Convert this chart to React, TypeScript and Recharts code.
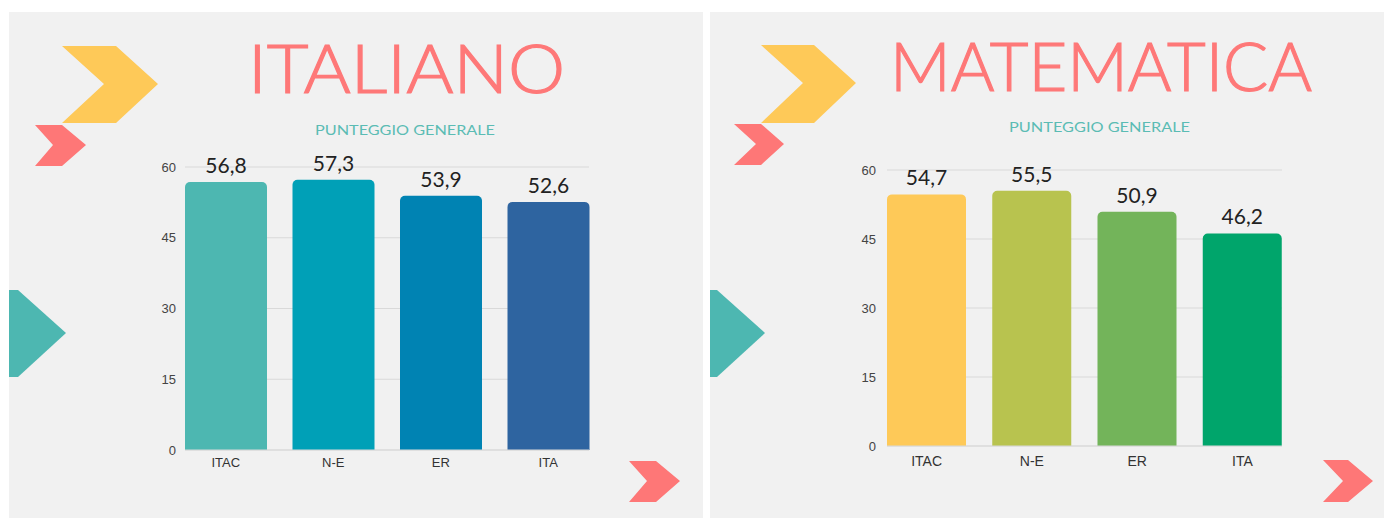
import { BarChart, Bar, XAxis, YAxis, CartesianGrid, Cell, LabelList } from "recharts";

const categories = ["ITAC", "N-E", "ER", "ITA"];
const italianoScores = [56.8, 57.3, 53.9, 52.6];
const matematicaScores = [54.7, 55.5, 50.9, 46.2];
const yTicks = [0, 15, 30, 45, 60];
const italianoColors = ["#4db7b1", "#00a0b7", "#0083b3", "#2e64a0"];
const matematicaColors = ["#fec958", "#b8c34f", "#73b45a", "#00a56b"];

const italianoData = categories.map((name, i) => ({ name, value: italianoScores[i] }));
const matematicaData = categories.map((name, i) => ({ name, value: matematicaScores[i] }));

const fmt = (v: any) => Number(v).toFixed(1).replace(".", ",");

function ScoreChart({ data, colors, left, top, width, height, xFont, xMargin, yMargin }: any) {
  return (
    <div style={{ position: "absolute", left, top, width, height }}>
      <BarChart
        width={width}
        height={height}
        data={data}
        margin={{ top: 37, right: 21, bottom: 10, left: 0 }}
        barCategoryGap={13}
      >
        <CartesianGrid vertical={false} stroke="#d9d9d9" />
        <XAxis
          dataKey="name"
          height={30}
          padding={{ left: -13, right: -13 }}
          tickLine={false}
          tickMargin={xMargin}
          axisLine={{ stroke: "#d9d9d9" }}
          tick={{ fill: "#333", fontSize: xFont, fontFamily: "Liberation Sans, Arial, sans-serif" }}
        />
        <YAxis
          width={45}
          domain={[0, 60]}
          ticks={yTicks}
          tickLine={false}
          axisLine={false}
          tickMargin={yMargin}
          tick={{ fill: "#444", fontSize: 13, fontFamily: "Liberation Sans, Arial, sans-serif" }}
        />
        <Bar dataKey="value" radius={[5, 5, 0, 0]} isAnimationActive={false}>
          {data.map((_: any, i: number) => (
            <Cell key={i} fill={colors[i]} />
          ))}
          <LabelList
            dataKey="value"
            position="top"
            offset={9}
            formatter={fmt}
            style={{ fill: "#222", fontSize: 21, fontFamily: "Lato, sans-serif" }}
          />
        </Bar>
      </BarChart>
    </div>
  );
}

export default function App() {
  return (
    <div style={{ position: "absolute", left: 0, top: 0, width: 1384, height: 518, background: "#fff", overflow: "hidden" }}>
      <svg width={1384} height={518} style={{ position: "absolute", left: 0, top: 0 }}>
        <rect x={9} y={12} width={694} height={506} fill="#f1f1f1" />
        <rect x={710} y={12} width={674} height={506} fill="#f1f1f1" />

        {/* left panel decorations */}
        <polygon points="62,46 116,46 158,84 116,123 62,123 104,84" fill="#fec958" />
        <polygon points="35,125 62,125 86,145 62,166 35,166 53,145" fill="#fe7777" />
        <polygon points="9,290 18,290 66,333 18,377 9,377" fill="#4db7b1" />
        <polygon points="629,461 656,461 680,481 656,502 629,502 647,481" fill="#fe7777" />

        {/* right panel decorations */}
        <polygon points="761,45 814,45 856,83 814,123 761,123 803,83" fill="#fec958" />
        <polygon points="734,124 761,124 784,144 761,165 734,165 756,144" fill="#fe7777" />
        <polygon points="710,290 717,290 765,333 717,377 710,377" fill="#4db7b1" />
        <polygon points="1323,460 1348,460 1373,481 1348,502 1323,502 1343,481" fill="#fe7777" />

        <text x={248} y={93} fontFamily="Lato, sans-serif" fontWeight={300} fontSize={67} fill="#fe7878" stroke="#fe7878" strokeWidth={1.2} textLength={317} lengthAdjust="spacingAndGlyphs">
          ITALIANO
        </text>
        <text x={315} y={135} fontFamily="Lato, sans-serif" fontSize={14} fill="#5bbcb4" textLength={180} lengthAdjust="spacingAndGlyphs">
          PUNTEGGIO GENERALE
        </text>
        <text x={890} y={91} fontFamily="Lato, sans-serif" fontWeight={300} fontSize={67} fill="#fe7878" stroke="#fe7878" strokeWidth={1.2} textLength={422} lengthAdjust="spacingAndGlyphs">
          MATEMATICA
        </text>
        <text x={1009} y={132} fontFamily="Lato, sans-serif" fontSize={14} fill="#5bbcb4" textLength={181} lengthAdjust="spacingAndGlyphs">
          PUNTEGGIO GENERALE
        </text>
      </svg>

      <ScoreChart data={italianoData} colors={italianoColors} left={140} top={130} width={470} height={360} xFont={13} xMargin={2} yMargin={3} />
      <ScoreChart data={matematicaData} colors={matematicaColors} left={842} top={133} width={461} height={353} xFont={14} xMargin={4} yMargin={5} />
    </div>
  );
}
